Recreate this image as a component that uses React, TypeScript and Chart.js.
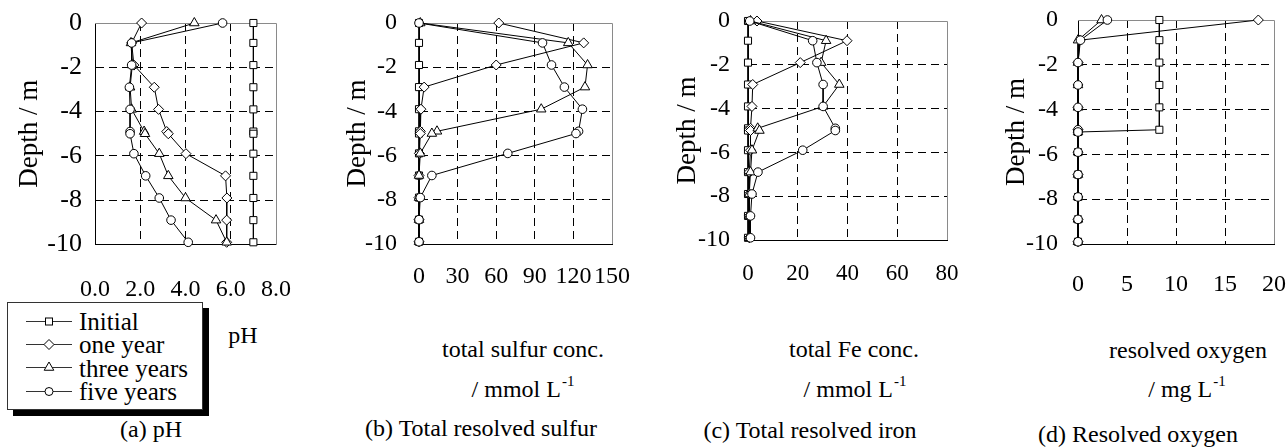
import React, { useEffect, useRef } from "react";
import { Chart, registerables } from "chart.js";

Chart.register(...registerables);

const FONT = "'Liberation Serif', 'Times New Roman', serif";

// ---------- data ----------
const depths = [0, -0.9, -1.9, -2.9, -3.9, -4.9, -5.0, -5.9, -6.9, -7.9, -8.9, -9.9];
const seriesNames = ["Initial", "one year", "three years", "five years"];

const phInitial = [7.0, 7.0, 7.0, 7.0, 7.0, 7.0, 7.0, 7.0, 7.0, 7.0, 7.0, 7.0];
const phOneYear = [2.06, 1.62, 1.72, 2.62, 2.81, 3.17, 3.24, 4.02, 5.77, 5.83, 5.82, 5.82];
const phThreeYears = [4.39, 1.59, 1.65, 1.55, 1.62, 2.17, 2.21, 2.84, 3.24, 4.0, 5.35, 5.82];
const phFiveYears = [5.64, 1.62, 1.62, 1.52, 1.55, 1.55, 1.55, 1.72, 2.24, 2.84, 3.36, 4.12];

const sulfurInitial = [0, 0, 0, 0, 0, 0, 0, 0, 0, 0, 0, 0];
const sulfurOneYear = [62, 128, 60, 4, 1.5, 1, 1, 0.3, 0, 0, 0, 0];
const sulfurThreeYears = [1, 116, 131, 129, 95, 14, 10, 1, 0, 0, 0, 0];
const sulfurFiveYears = [0, 96, 103, 113, 127, 124, 122, 69, 10, 1, 0, 0];

const ironInitial = [0, 0, 0, 0, 0, 0, 0, 0, 0, 0, 0, 0];
const ironOneYear = [3.6, 39.8, 21, 1.9, 1.6, 1, 1, 1, 0.5, 0.5, 0.5, 0.5];
const ironThreeYears = [1, 31.4, 29.4, 36.7, 30.2, 3.9, 4.6, 1.6, 1, 0.5, 0.5, 0.5];
const ironFiveYears = [0.7, 26, 27.7, 30.2, 30.2, 35.1, 35.1, 22, 4, 1.6, 1, 1];

const oxygenInitial = [8.3, 8.3, 8.3, 8.3, 8.3, 8.3, 0, 0, 0, 0, 0, 0];
const oxygenOneYear = [18.4, 0.2, 0, 0, 0, 0, 0, 0, 0, 0, 0, 0];
const oxygenThreeYears = [2.4, 0, 0, 0, 0, 0, 0, 0, 0, 0, 0, 0];
const oxygenFiveYears = [3.0, 0.25, 0, 0, 0, 0, 0, 0, 0, 0, 0, 0];

const depthTicks = [0, -2, -4, -6, -8, -10];
const phTicks = [0, 2, 4, 6, 8];
const sulfurTicks = [0, 30, 60, 90, 120, 150];
const ironTicks = [0, 20, 40, 60, 80];
const oxygenTicks = [0, 5, 10, 15, 20];

const depthTitle = "Depth / m";

// ---------- styles ----------
const pointStyles = ["rect", "rectRot", "triangle", "circle"];
const pointRadii = [5, 5, 5.5, 4.3];

type PanelSpec = {
  left: number;
  width: number;
  height: number;
  padTop: number;
  padRight: number;
  xH: number;
  yW: number;
  xTicks: number[];
  fmt: (v: number) => string;
  xPad: number;
  yPad: number;
  yFont: number;
  xFont: number;
  titlePad: number;
  values: number[][];
};

const panels: PanelSpec[] = [
  {
    left: 0, width: 300, height: 300, padTop: 23, padRight: 24, xH: 55.5, yW: 95,
    xTicks: phTicks, fmt: (v) => v.toFixed(1), xPad: 31, yPad: 13, yFont: 26, xFont: 24, titlePad: 13.8,
    values: [phInitial, phOneYear, phThreeYears, phFiveYears],
  },
  {
    left: 330, width: 306, height: 300, padTop: 23, padRight: 24, xH: 56, yW: 89,
    xTicks: sulfurTicks, fmt: (v) => String(v), xPad: 18, yPad: 22, yFont: 24, xFont: 24, titlePad: 11.8,
    values: [sulfurInitial, sulfurOneYear, sulfurThreeYears, sulfurFiveYears],
  },
  {
    left: 660, width: 311, height: 300, padTop: 21, padRight: 24, xH: 60, yW: 88,
    xTicks: ironTicks, fmt: (v) => String(v), xPad: 20.6, yPad: 18, yFont: 24, xFont: 23, titlePad: 11.8,
    values: [ironInitial, ironOneYear, ironThreeYears, ironFiveYears],
  },
  {
    left: 990, width: 296, height: 300, padTop: 20, padRight: 12, xH: 56, yW: 88,
    xTicks: oxygenTicks, fmt: (v) => String(v), xPad: 26.6, yPad: 20, yFont: 24, xFont: 24, titlePad: 10.8,
    values: [oxygenInitial, oxygenOneYear, oxygenThreeYears, oxygenFiveYears],
  },
];

const framePlugin = {
  id: "grayFrame",
  beforeDatasetsDraw(chart: any) {
    const { ctx, chartArea } = chart;
    const l = Math.round(chartArea.left);
    const r = Math.round(chartArea.right) + 0.5;
    const t = Math.round(chartArea.top) + 0.5;
    const b = Math.round(chartArea.bottom);
    ctx.save();
    ctx.strokeStyle = "#8a8a8a";
    ctx.lineWidth = 1;
    ctx.setLineDash([]);
    ctx.beginPath();
    ctx.moveTo(l, t);
    ctx.lineTo(r, t);
    ctx.lineTo(r, b);
    ctx.stroke();
    ctx.restore();
  },
};

function zeroPad(s: any) {
  s.paddingLeft = 0;
  s.paddingRight = 0;
  s.paddingTop = 0;
  s.paddingBottom = 0;
}

function makeConfig(p: PanelSpec): any {
  const xMin = p.xTicks[0];
  const xMax = p.xTicks[p.xTicks.length - 1];
  const yMin = depthTicks[depthTicks.length - 1];
  const yMax = depthTicks[0];
  return {
    type: "scatter",
    data: {
      datasets: seriesNames.map((name, i) => ({
        label: name,
        data: depths.map((d, j) => ({ x: p.values[i][j], y: d })),
        showLine: true,
        borderColor: "#000",
        borderWidth: 1,
        pointStyle: pointStyles[i],
        pointRadius: pointRadii[i],
        pointBackgroundColor: "#fff",
        pointBorderColor: "#000",
        pointBorderWidth: 1,
        order: 3 - i,
        clip: false,
      })),
    },
    options: {
      responsive: false,
      animation: false,
      devicePixelRatio: 1,
      events: [],
      layout: { padding: { left: 0, top: p.padTop, right: p.padRight, bottom: 0 } },
      plugins: { legend: { display: false }, tooltip: { enabled: false } },
      scales: {
        x: {
          type: "linear",
          min: xMin,
          max: xMax,
          afterBuildTicks: (s: any) => {
            s.ticks = p.xTicks.map((v) => ({ value: v }));
          },
          afterFit: (s: any) => {
            s.height = p.xH;
            zeroPad(s);
          },
          ticks: {
            autoSkip: false,
            maxRotation: 0,
            padding: p.xPad,
            color: "#000",
            font: { family: FONT, size: p.xFont },
            callback: (v: any) => p.fmt(Number(v)),
          },
          grid: {
            drawTicks: false,
            lineWidth: 1,
            color: (c: any) =>
              c.tick && (c.tick.value === xMin || c.tick.value === xMax) ? "rgba(0,0,0,0)" : "#000",
          },
          border: { display: true, color: "#000", width: 1, dash: [8, 5] },
        },
        y: {
          type: "linear",
          min: yMin,
          max: yMax,
          afterBuildTicks: (s: any) => {
            s.ticks = depthTicks.map((v) => ({ value: v }));
          },
          afterFit: (s: any) => {
            s.width = p.yW;
            zeroPad(s);
          },
          ticks: {
            padding: p.yPad,
            color: "#000",
            font: { family: FONT, size: p.yFont },
            callback: (v: any) => String(v),
          },
          grid: {
            drawTicks: false,
            lineWidth: 1,
            color: (c: any) =>
              c.tick && (c.tick.value === yMin || c.tick.value === yMax) ? "rgba(0,0,0,0)" : "#000",
          },
          border: { display: true, color: "#000", width: 1, dash: [8, 5] },
          title: {
            display: true,
            text: depthTitle,
            color: "#000",
            font: { family: FONT, size: 27 },
            padding: { top: p.titlePad, bottom: 0 },
          },
        },
      },
    },
    plugins: [framePlugin],
  };
}

function Panel({ spec }: { spec: PanelSpec }) {
  const ref = useRef<HTMLCanvasElement>(null);
  useEffect(() => {
    if (!ref.current) return;
    const chart = new Chart(ref.current, makeConfig(spec));
    return () => chart.destroy();
  }, [spec]);
  return (
    <canvas
      ref={ref}
      width={spec.width}
      height={spec.height}
      style={{ position: "absolute", left: spec.left, top: 0, width: spec.width, height: spec.height }}
    />
  );
}

function Marker({ style }: { style: string }) {
  const cx = 23;
  const cy = 11.5;
  let shape: any = null;
  if (style === "rect") shape = <rect x={cx - 3.5} y={cy - 3.5} width={7} height={7} fill="#fff" stroke="#000" />;
  else if (style === "rectRot")
    shape = <polygon points={`${cx},${cy - 5} ${cx + 5},${cy} ${cx},${cy + 5} ${cx - 5},${cy}`} fill="#fff" stroke="#000" />;
  else if (style === "triangle")
    shape = <polygon points={`${cx},${cy - 5.5} ${cx + 4.8},${cy + 2.75} ${cx - 4.8},${cy + 2.75}`} fill="#fff" stroke="#000" />;
  else shape = <circle cx={cx} cy={cy} r={4} fill="#fff" stroke="#000" />;
  return (
    <svg width={46} height={23} style={{ position: "absolute", left: 19, top: 0 }}>
      <line x1={0} y1={cy} x2={46} y2={cy} stroke="#333" strokeWidth={1} />
      {shape}
    </svg>
  );
}

function Text({ x, base, size = 24, children }: { x: number; base: number; size?: number; children: any }) {
  return (
    <div
      style={{
        position: "absolute",
        left: x,
        top: base - 0.8375 * size,
        transform: "translateX(-50%)",
        fontFamily: FONT,
        fontSize: size,
        lineHeight: `${size}px`,
        whiteSpace: "nowrap",
        color: "#000",
      }}
    >
      {children}
    </div>
  );
}

const Sup = () => (
  <span style={{ fontSize: 15, position: "relative", top: -11, marginLeft: 1 }}>-1</span>
);

export default function App() {
  return (
    <div style={{ position: "absolute", left: 0, top: 0, width: 1286, height: 448, background: "#fff", overflow: "hidden" }}>
      {panels.map((p, i) => (
        <Panel key={i} spec={p} />
      ))}

      {/* legend */}
      <div
        style={{
          position: "absolute",
          left: 7,
          top: 302,
          width: 194,
          height: 106,
          border: "1px solid #333",
          background: "#fff",
          boxShadow: "6px 6px 0 #000",
        }}
      />
      {seriesNames.map((name, i) => (
        <div key={name} style={{ position: "absolute", left: 7, top: 310 + i * 23.2, width: 196, height: 23 }}>
          <Marker style={pointStyles[i]} />
          <div
            style={{
              position: "absolute",
              left: 72,
              top: 20.2 - 0.8375 * 25,
              fontFamily: FONT,
              fontSize: 25,
              lineHeight: "25px",
              whiteSpace: "nowrap",
            }}
          >
            {name}
          </div>
        </div>
      ))}

      <Text x={243} base={343}>pH</Text>
      <Text x={151} base={437}>(a) pH</Text>

      <Text x={523} base={357}>total sulfur conc.</Text>
      <Text x={523} base={397}>/ mmol L<Sup /></Text>
      <Text x={481} base={436}>(b) Total resolved sulfur</Text>

      <Text x={854} base={357}>total Fe conc.</Text>
      <Text x={855} base={397}>/ mmol L<Sup /></Text>
      <Text x={810} base={438}>(c) Total resolved iron</Text>

      <Text x={1188} base={358}>resolved oxygen</Text>
      <Text x={1187} base={397}>/ mg L<Sup /></Text>
      <Text x={1138} base={442}>(d) Resolved oxygen</Text>
    </div>
  );
}
